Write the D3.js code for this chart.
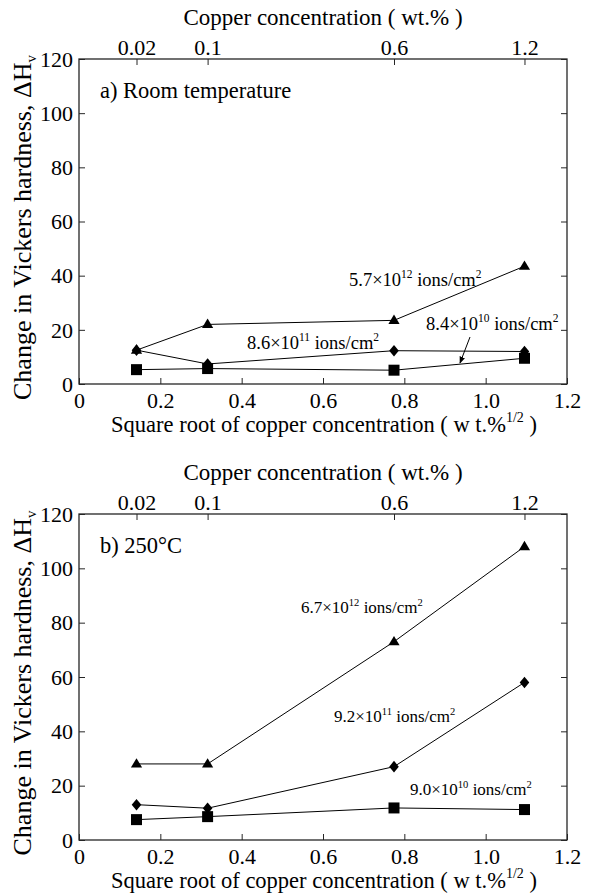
<!DOCTYPE html>
<html><head><meta charset="utf-8">
<script src="https://cdn.jsdelivr.net/npm/d3@7"></script>
<style>
body{margin:0;background:#fff}
svg, svg text{font-family:"Liberation Serif","Times New Roman",serif !important}
text{fill:#000}
</style>
</head><body><svg id="c" width="593" height="895" font-family="Liberation Serif"></svg>
<script>
// ---- data ----
const copper = [0.02, 0.1, 0.6, 1.2];               // wt.%
const topTickLabels = ["0.02", "0.1", "0.6", "1.2"];
const xTicks = [0, 0.2, 0.4, 0.6, 0.8, 1.0, 1.2];
const xTickLabels = ["0", "0.2", "0.4", "0.6", "0.8", "1.0", "1.2"];
const yTicks = [0, 20, 40, 60, 80, 100, 120];

const roomHigh = [12.5, 22, 23.5, 43.5];   // 5.7e12
const roomMid  = [12.5, 7.4, 12.3, 12];    // 8.6e11
const roomLow  = [5.3, 5.7, 5.1, 9.5];     // 8.4e10
const hotHigh  = [28, 28, 73, 108];        // 6.7e12
const hotMid   = [13, 11.7, 27, 58];       // 9.2e11
const hotLow   = [7.5, 8.6, 11.8, 11.2];   // 9.0e10

const roomLabels = [["5.7", "12"], ["8.6", "11"], ["8.4", "10"]];
const hotLabels  = [["6.7", "12"], ["9.2", "11"], ["9.0", "10"]];
const panelTitles = ["a) Room temperature", "b) 250°C"];

// ---- layout ----
const FF = "Liberation Serif";
const svg = d3.select("#c");
const L = 79, R = 567;
const panels = [
  {top: 59, bottom: 384, title: panelTitles[0], series: [roomHigh, roomMid, roomLow],
   labels: roomLabels, labelPos: [[349, 286], [247, 349], [426, 330]], labelSize: 18.5,
   arrow: [[470, 337], [460, 363]]},
  {top: 514, bottom: 840, title: panelTitles[1], series: [hotHigh, hotMid, hotLow],
   labels: hotLabels, labelPos: [[301, 613], [334, 722], [410, 795]], labelSize: 17, arrow: null}
];
const shapes = [
  "M0,-5.8L5.6,3.6L-5.6,3.6Z",          // triangle
  "M0,-5.8L4.8,0L0,5.8L-4.8,0Z",         // diamond
  "M-5.5,-5.5h11v11h-11Z"                // square
];
const axisColor = "#262626";

svg.append("defs").append("marker")
  .attr("id", "ah").attr("viewBox", "0 0 10 10").attr("refX", 9).attr("refY", 5)
  .attr("markerWidth", 7).attr("markerHeight", 7).attr("orient", "auto")
  .append("path").attr("d", "M0,1L10,5L0,9Z").attr("fill", "#000");

function annot(g, x, y, mant, exp, size) {
  const t = g.append("text").attr("x", x).attr("y", y).attr("font-size", size).attr("font-family", FF);
  t.append("tspan").text(mant + "×10");
  t.append("tspan").attr("font-size", size * 0.62).attr("dy", -size * 0.42).text(exp);
  t.append("tspan").attr("dy", size * 0.42).text(" ions/cm");
  t.append("tspan").attr("font-size", size * 0.62).attr("dy", -size * 0.42).text("2");
}

panels.forEach(p => {
  const g = svg.append("g").attr("font-family", FF);
  const x = d3.scaleLinear().domain([0, 1.2]).range([L, R]);
  const xTop = d3.scaleSqrt().domain([0, 1.44]).range([L, R]);
  const y = d3.scaleLinear().domain([0, 120]).range([p.bottom, p.top]);

  // axes (inward ticks)
  const ax = [
    [d3.axisBottom(x).tickValues(xTicks).tickFormat((d, i) => xTickLabels[i]), `translate(0,${p.bottom})`, "b"],
    [d3.axisTop(xTop).tickValues(copper).tickFormat((d, i) => topTickLabels[i]), `translate(0,${p.top})`, "t"],
    [d3.axisLeft(y).tickValues(yTicks), `translate(${L},0)`, "l"],
    [d3.axisRight(y).tickValues(yTicks).tickFormat(""), `translate(${R},0)`, "r"]
  ];
  ax.forEach(([a, tr, side]) => {
    const ag = g.append("g").attr("transform", tr).call(a.tickSizeInner(-6).tickSizeOuter(0));
    ag.attr("font-family", FF).attr("font-size", 22);
    ag.select(".domain").remove();
    ag.selectAll("line").attr("stroke", axisColor).attr("stroke-width", 1);
    ag.selectAll("text").attr("font-family", FF).attr("font-size", 22).attr("fill", "#000");
    if (side === "b") ag.selectAll("text").attr("y", 24).attr("dy", 0);
    if (side === "t") ag.selectAll("text").attr("y", -4.5).attr("dy", 0);
    if (side === "l") ag.selectAll("text").attr("x", -6).attr("dy", "0.33em");
  });
  g.append("rect").attr("x", L).attr("y", p.top).attr("width", R - L).attr("height", p.bottom - p.top)
    .attr("fill", "none").attr("stroke", axisColor).attr("stroke-width", 1.3);

  // axis titles
  g.append("text").attr("x", (L + R) / 2).attr("y", p.top - 34).attr("text-anchor", "middle")
    .attr("font-size", 23).text("Copper concentration ( wt.% )");
  const xt = g.append("text").attr("x", (L + R) / 2 + 1).attr("y", p.bottom + 48).attr("text-anchor", "middle")
    .attr("font-size", 22.5);
  xt.append("tspan").text("Square root of copper concentration ( w t.%");
  xt.append("tspan").attr("font-size", 14).attr("dy", -10).text("1/2");
  xt.append("tspan").attr("dy", 10).text(" )");
  const yt = g.append("text").attr("transform", `translate(31,${(p.top + p.bottom) / 2 + 6}) rotate(-90)`)
    .attr("text-anchor", "middle").attr("font-size", 26);
  yt.append("tspan").text("Change in Vickers hardness, ΔH");
  yt.append("tspan").attr("font-size", 15).attr("dy", 5).text("v");

  g.append("text").attr("x", 100).attr("y", p.top + 39).attr("font-size", 22.5).text(p.title);

  // lines and markers
  const line = d3.line().x((d, i) => xTop(copper[i])).y(d => y(d));
  p.series.forEach(s => {
    g.append("path").attr("d", line(s)).attr("fill", "none").attr("stroke", "#000").attr("stroke-width", 1);
  });
  p.series.forEach((s, k) => {
    g.selectAll(null).data(s).enter().append("path")
      .attr("transform", (d, i) => `translate(${xTop(copper[i])},${y(d)})`)
      .attr("d", shapes[k]).attr("fill", "#000");
  });

  // annotations
  p.labels.forEach((lb, i) => annot(g, p.labelPos[i][0], p.labelPos[i][1], lb[0], lb[1], p.labelSize));
  if (p.arrow) {
    g.append("line").attr("x1", p.arrow[0][0]).attr("y1", p.arrow[0][1])
      .attr("x2", p.arrow[1][0]).attr("y2", p.arrow[1][1])
      .attr("stroke", "#000").attr("stroke-width", 1).attr("marker-end", "url(#ah)");
  }
});
</script>
</body></html>
